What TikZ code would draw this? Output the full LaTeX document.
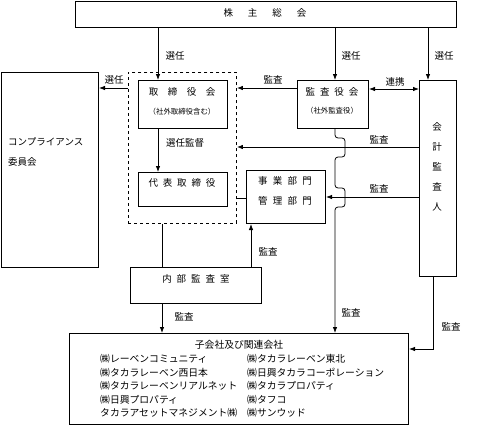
\documentclass[tikz,border=0pt]{standalone}
\usepackage{fontspec}
\setmainfont{Noto Sans CJK JP}
\usetikzlibrary{arrows.meta}
\newcommand{\jsp}[1]{\hspace{#1pt}}
\begin{document}
\begin{tikzpicture}[x=1pt,y=-1pt,
  box/.style={draw, line width=1pt, anchor=north west, inner sep=0pt},
  dbox/.style={draw, dashed, line width=0.9pt, anchor=north west, inner sep=0pt},
  ln/.style={line width=0.8pt},
  arr/.style={line width=0.8pt, -{Latex[length=6pt,width=4.5pt]}},
  darr/.style={line width=0.8pt, {Latex[length=6pt,width=4.5pt]}-{Latex[length=6pt,width=4.5pt]}},
  txt/.style={inner sep=0pt, font=\fontsize{9.5}{11}\selectfont},
  stxt/.style={inner sep=0pt, font=\fontsize{7.4}{9}\selectfont},
  lst/.style={inner sep=0pt, anchor=west, font=\fontsize{9.8}{11}\selectfont}]
\useasboundingbox (0,0) rectangle (490,426);
% boxes
\node[box, minimum width=381, minimum height=26] (top) at (75,1) {};
\node[box, minimum width=97, minimum height=195] (comp) at (1,72) {};
\node[dbox, minimum width=108, minimum height=151] (dash) at (128,72) {};
\node[box, minimum width=89, minimum height=48] (tori) at (138,80) {};
\node[box, minimum width=89, minimum height=34] (daihyo) at (138,172) {};
\node[box, minimum width=71, minimum height=48] (kansa) at (297,80) {};
\node[box, minimum width=37, minimum height=196] (kaikei) at (419,80) {};
\node[box, minimum width=79, minimum height=53] (jigyo) at (246,170) {};
\node[box, minimum width=131, minimum height=36] (naibu) at (130,267) {};
\node[box, minimum width=339, minimum height=91] (ko) at (69,333) {};
% texts
\node[txt] (t-top) at (265,13) {株\jsp{15}主\jsp{15}総\jsp{15}会};
\node[txt, anchor=west] (t-comp1) at (8,142) {コンプライアンス};
\node[txt, anchor=west] (t-comp2) at (8,162) {委員会};
\node[txt] (t-tori1) at (182,92) {取\jsp{9.5}締\jsp{9.5}役\jsp{9.5}会};
\node[stxt] (t-tori2) at (182,112) {（社外取締役含む）};
\node[txt] (t-daihyo) at (182,183) {代\jsp{4.8}表\jsp{4.8}取\jsp{4.8}締\jsp{4.8}役};
\node[txt] (t-kansa1) at (332,92) {監\jsp{5}査\jsp{5}役\jsp{5}会};
\node[stxt] (t-kansa2) at (332,111) {（社外監査役）};
\node[txt, align=center, font=\fontsize{9.5}{20}\selectfont] (t-kaikei) at (437,167) {会\\計\\監\\査\\人};
\node[txt] (t-jigyo1) at (285,181) {事\jsp{5.2}業\jsp{5.2}部\jsp{5.2}門};
\node[txt] (t-jigyo2) at (285,201) {管\jsp{5.2}理\jsp{5.2}部\jsp{5.2}門};
\node[txt] (t-naibu) at (196,279) {内\jsp{5}部\jsp{5}監\jsp{5}査\jsp{5}室};
\node[txt, font=\fontsize{9.8}{11}\selectfont] (t-ko) at (239,345) {子会社及び関連会社};
\node[lst] (l1) at (100,359) {㈱レーベンコミュニティ};
\node[lst] (l2) at (100,372.5) {㈱タカラレーベン西日本};
\node[lst] (l3) at (100,386) {㈱タカラレーベンリアルネット};
\node[lst] (l4) at (100,399.5) {㈱日興プロパティ};
\node[lst] (l5) at (100,413) {タカラアセットマネジメント㈱};
\node[lst] (r1) at (247,359) {㈱タカラレーベン東北};
\node[lst] (r2) at (247,372.5) {㈱日興タカラコーポレーション};
\node[lst] (r3) at (247,386) {㈱タカラプロパティ};
\node[lst] (r4) at (247,399.5) {㈱タフコ};
\node[lst] (r5) at (247,413) {㈱サンウッド};
% edge labels
\node[txt] (e1) at (175,56) {選任};
\node[txt] (e2) at (351,56) {選任};
\node[txt] (e3) at (444,56) {選任};
\node[txt] (e4) at (114,80) {選任};
\node[txt] (e5) at (273,80) {監査};
\node[txt] (e6) at (395,82) {連携};
\node[txt] (e7) at (185,143) {選任監督};
\node[txt] (e8) at (379,140) {監査};
\node[txt] (e9) at (379,189) {監査};
\node[txt] (e10) at (268,252) {監査};
\node[txt] (e11) at (184,317) {監査};
\node[txt] (e12) at (351,313) {監査};
\node[txt] (e13) at (451,327) {監査};
% helper coordinates
\coordinate (c158) at (158,0);
\coordinate (c335) at (335,0);
\coordinate (c428) at (428,0);
\coordinate (c162) at (162,0);
\coordinate (c251) at (251,0);
\coordinate (c433) at (433,0);
\coordinate (y88) at (0,88);
\coordinate (y89) at (0,89);
\coordinate (y147) at (0,147);
\coordinate (y197) at (0,197);
\coordinate (y198) at (0,198);
\coordinate (y349) at (0,349);
% connectors
\draw[arr] (top.south -| c158) -- (tori.north -| c158);
\draw[arr] (top.south -| c335) -- (kansa.north -| c335);
\draw[arr] (top.south -| c428) -- (kaikei.north -| c428);
\draw[arr] (dash.west |- y88) -- (comp.east |- y88);
\draw[arr] (kansa.west |- y88) -- (dash.east |- y88);
\draw[darr] (kansa.east |- y89) -- (kaikei.west |- y89);
\draw[arr] (tori.south -| c158) -- (daihyo.north -| c158);
\draw[arr] (kaikei.west |- y147) -- (dash.east |- y147);
\draw[arr] (kaikei.west |- y197) -- (jigyo.east |- y197);
\draw[ln] (dash.east |- y198) -- (jigyo.west |- y198);
\draw[ln] (dash.south -| c162) -- (naibu.north -| c162);
\draw[arr] (naibu.north -| c251) -- (jigyo.south -| c251);
\draw[arr] (naibu.south -| c162) -- (ko.north -| c162);
\draw[arr, rounded corners=3pt] (kansa.south -| c335) -- (335,138) -- (345,138) -- (345,157) -- (335,157)
  -- (335,188) -- (345,188) -- (345,207) -- (335,207) -- (ko.north -| c335);
\draw[arr] (kaikei.south -| c433) -- (c433 |- y349) -- (ko.east |- y349);
\end{tikzpicture}
\end{document}
